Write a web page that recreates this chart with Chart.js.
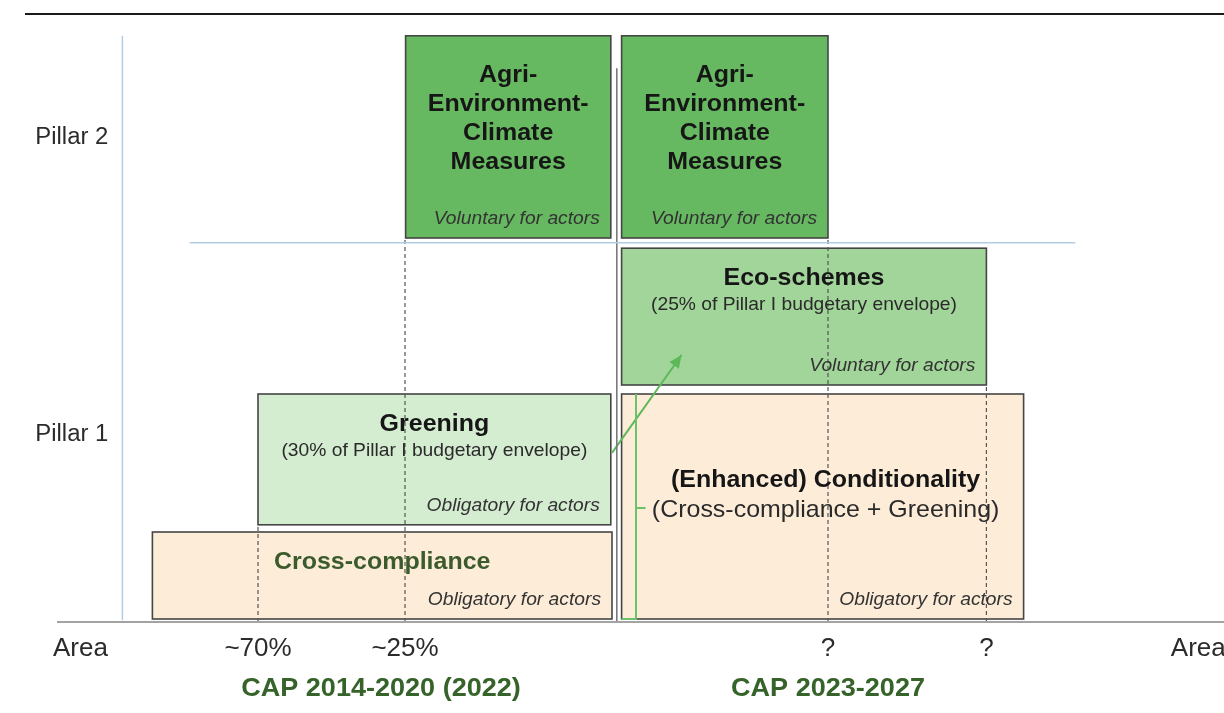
<!DOCTYPE html>
<html>
<head>
<meta charset="utf-8">
<script src="https://cdn.jsdelivr.net/npm/chart.js@4.4.1/dist/chart.umd.min.js"></script>
<style>
  html, body { margin: 0; padding: 0; background: #fff; }
  #wrap { position: relative; width: 1224px; height: 713px; }
  #rule { position: absolute; left: 25px; right: 0; top: 13px; height: 2px; background: #1a1a1a; }
</style>
</head>
<body>
<div id="wrap">
  <div id="rule"></div>
  <canvas id="capChart"></canvas>
</div>
<script>
// diagram units: x runs 0-102 along the area axis, y runs 0-100 up from the axis line
const boxNames = ['AECM 2014-2020', 'AECM 2023-2027', 'Eco-schemes', 'Greening', 'Cross-compliance', 'Conditionality'];
const boxFrom = [33.8, 51.8, 51.8, 21.5, 12.7, 51.8];
const boxTo = [50.9, 69.0, 82.2, 50.9, 51.0, 85.3];
const boxLow = [64.0, 64.0, 39.5, 16.2, 0.5, 0.5];
const boxHigh = [97.7, 97.7, 62.3, 38.0, 15.0, 38.0];
const boxTitles = [
  ['Agri-', 'Environment-', 'Climate', 'Measures'],
  ['Agri-', 'Environment-', 'Climate', 'Measures'],
  ['Eco-schemes'],
  ['Greening'],
  ['Cross-compliance'],
  ['(Enhanced) Conditionality']
];
const boxSubtitles = ['', '', '(25% of Pillar I budgetary envelope)', '(30% of Pillar I budgetary envelope)', '', '(Cross-compliance + Greening)'];
const boxNotes = ['Voluntary for actors', 'Voluntary for actors', 'Voluntary for actors', 'Obligatory for actors', 'Obligatory for actors', 'Obligatory for actors'];

const tickValues = [6.7, 21.5, 33.75, 69.0, 82.2, 99.9];
const tickLabels = ['Area', '~70%', '~25%', '?', '?', 'Area'];
const guideTops = [null, 16.2, 64.0, 64.0, 39.5, null];

const pillarValues = [80.7, 31.3];
const pillarLabels = ['Pillar 2', 'Pillar 1'];

const periodCentres = [31.75, 69.0];
const periodLabels = ['CAP 2014-2020 (2022)', 'CAP 2023-2027'];

const axisLine = [[4.75, 0], [102, 0]];
const pillarAxis = [[10.2, 0.3], [10.2, 97.7]];
const pillarDivide = [[15.8, 63.2], [89.6, 63.2]];
const periodDivide = [[51.4, 0], [51.4, 92.3]];
const carryOver = [[51.8, 0.5], [53.0, 0.5], [53.0, 38.0]];
const carryTick = [[53.0, 19.0], [53.8, 19.0]];
const shiftArrow = [[51.0, 28.2], [56.8, 44.5]];

const FONT = "'Liberation Sans', Arial, Helvetica, sans-serif";
const STRETCH = 1.04;
const fills = {
  'AECM 2014-2020': '#66b960',
  'AECM 2023-2027': '#66b960',
  'Eco-schemes': '#a2d59a',
  'Greening': '#d4ecd0',
  'Cross-compliance': '#fdecd8',
  'Conditionality': '#fdecd8'
};

const pts = arr => arr.map(p => ({ x: p[0], y: p[1] }));
const seg = (data, color, width, dash) => ({
  data: pts(data), showLine: true, borderColor: color, borderWidth: width,
  borderDash: dash || [], pointRadius: 0, fill: false, clip: false, tension: 0
});

function txt(ctx, s, px, py, font, color, align) {
  ctx.save();
  ctx.font = font;
  ctx.fillStyle = color;
  ctx.textAlign = align || 'center';
  ctx.textBaseline = 'middle';
  ctx.translate(px, py);
  ctx.scale(STRETCH, 1);
  ctx.fillText(s, 0, 0);
  ctx.restore();
}

const diagram = {
  id: 'diagram',
  beforeDatasetsDraw(chart) {
    const { ctx, scales: { x, y } } = chart;
    boxNames.forEach((n, i) => {
      const l = x.getPixelForValue(boxFrom[i]), r = x.getPixelForValue(boxTo[i]);
      const t = y.getPixelForValue(boxHigh[i]), b = y.getPixelForValue(boxLow[i]);
      ctx.save();
      ctx.fillStyle = fills[n];
      ctx.fillRect(l, t, r - l, b - t);
      ctx.lineWidth = 1.6;
      ctx.strokeStyle = '#454545';
      ctx.strokeRect(l, t, r - l, b - t);
      ctx.restore();
    });
  },
  afterDatasetsDraw(chart) {
    const { ctx, scales: { x, y } } = chart;

    boxNames.forEach((n, i) => {
      const l = x.getPixelForValue(boxFrom[i]), r = x.getPixelForValue(boxTo[i]);
      const t = y.getPixelForValue(boxHigh[i]), b = y.getPixelForValue(boxLow[i]);
      const cx = (l + r) / 2;
      const lines = boxTitles[i];
      const big = n === 'Conditionality';
      let ty = big ? (t + b) / 2 - 26 : t + (lines.length > 1 ? 40 : 30);
      const titleColor = n === 'Cross-compliance' ? '#3b5b2c' : '#161616';
      lines.forEach((s, k) => {
        txt(ctx, s, cx + (big ? 3 : 0), ty + k * 29, 'bold 24px ' + FONT, titleColor);
      });
      if (boxSubtitles[i]) {
        const sy = ty + (lines.length - 1) * 29 + (big ? 30 : 27);
        const sf = big ? '24px ' + FONT : '18.5px ' + FONT;
        txt(ctx, boxSubtitles[i], cx + (big ? 3 : 0), sy, sf, '#2a2a2a');
      }
      txt(ctx, boxNotes[i], r - 11, b - 19, 'italic 18.5px ' + FONT, '#333', 'right');
    });

    // arrow head on the greening -> eco-schemes shift
    const ax0 = x.getPixelForValue(shiftArrow[0][0]), ay0 = y.getPixelForValue(shiftArrow[0][1]);
    const ax1 = x.getPixelForValue(shiftArrow[1][0]), ay1 = y.getPixelForValue(shiftArrow[1][1]);
    const ang = Math.atan2(ay1 - ay0, ax1 - ax0);
    ctx.save();
    ctx.fillStyle = '#5db85a';
    ctx.beginPath();
    ctx.moveTo(ax1, ay1);
    ctx.lineTo(ax1 - 14 * Math.cos(ang - 0.42), ay1 - 14 * Math.sin(ang - 0.42));
    ctx.lineTo(ax1 - 14 * Math.cos(ang + 0.42), ay1 - 14 * Math.sin(ang + 0.42));
    ctx.closePath();
    ctx.fill();
    ctx.restore();

    // axis tick labels
    const base = y.getPixelForValue(0);
    tickValues.forEach((v, i) => {
      const align = i === tickLabels.length - 1 ? 'left' : 'center';
      const px = x.getPixelForValue(v) - (align === 'left' ? 28 : 0);
      txt(ctx, tickLabels[i], px, base + 27, '25px ' + FONT, '#2b2b2b', align);
    });
    pillarValues.forEach((v, i) => {
      txt(ctx, pillarLabels[i], x.getPixelForValue(pillarAxis[0][0]) - 14, y.getPixelForValue(v), '23px ' + FONT, '#2b2b2b', 'right');
    });
    periodCentres.forEach((v, i) => {
      txt(ctx, periodLabels[i], x.getPixelForValue(v), base + 67, 'bold 26px ' + FONT, '#36632a');
    });
  }
};

const datasets = [
  seg(axisLine, '#a3a3a3', 2),
  seg(pillarAxis, '#b4cbe8', 1.5),
  seg(pillarDivide, '#b4cbe8', 1.5),
  seg(periodDivide, '#7a7a7a', 1.6)
];
tickValues.forEach((v, i) => {
  if (guideTops[i] !== null) datasets.push(seg([[v, 0], [v, guideTops[i]]], '#555', 1.2, [4, 3]));
});
datasets.push(seg(carryOver, '#6cc26a', 2));
datasets.push(seg(carryTick, '#6cc26a', 2));
datasets.push(seg(shiftArrow, '#5db85a', 2));

new Chart(document.getElementById('capChart').getContext('2d'), {
  type: 'scatter',
  data: { datasets },
  options: {
    responsive: true,
    maintainAspectRatio: false,
    animation: false,
    layout: { padding: { top: 22, bottom: 91, left: 0, right: 0 } },
    plugins: { legend: { display: false }, tooltip: { enabled: false } },
    scales: {
      x: { type: 'linear', min: 0, max: 102, display: false },
      y: { type: 'linear', min: 0, max: 100, display: false }
    }
  },
  plugins: [diagram]
});
</script>
</body>
</html>
